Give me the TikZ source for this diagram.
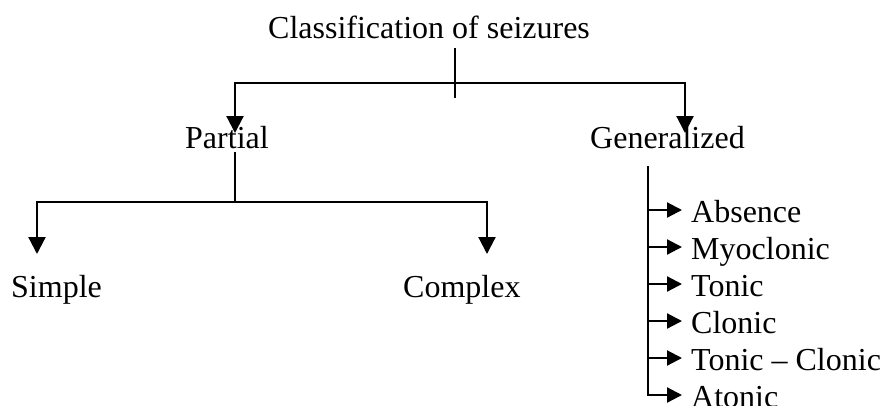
\documentclass[tikz,border=0pt]{standalone}
\usepackage{fontspec}
\setmainfont{Liberation Serif}
\usetikzlibrary{arrows.meta}
\begin{document}
\begin{tikzpicture}[x=1pt,y=-1pt,
  lbl/.style={anchor=base west,inner sep=0pt,font=\fontsize{32}{36}\selectfont},
  big/.style={line width=2.2pt,-{Triangle[width=17pt,length=17pt]}},
  small/.style={line width=2.2pt,-{Triangle[width=15pt,length=15pt]}},
  plain/.style={line width=2.2pt}]
\useasboundingbox (0,0) rectangle (885,405);
\node[lbl] (title) at (268,38) {Classification of seizures};
\node[lbl] (partial) at (185,148) {Partial};
\node[lbl] (gen) at (590,148) {Generalized};
\node[lbl] (simple) at (11,297) {Simple};
\node[lbl] (complex) at (403,297) {Complex};
\node[lbl] (abs) at (691,222) {Absence};
\node[lbl] (myo) at (691,259) {Myoclonic};
\node[lbl] (ton) at (691,296) {Tonic};
\node[lbl] (clo) at (691,333) {Clonic};
\node[lbl] (tc) at (691,370) {Tonic -- Clonic};
\node[lbl] (ato) at (691,407) {Atonic};
% title stem and branch
\coordinate (t1) at (455,48);
\coordinate (t2) at (455,98);
\coordinate (bm) at (455,83);
\coordinate (bl) at (235,133);
\coordinate (br) at (685,133);
\draw[line width=1.5pt] (t1) -- (t2);
\draw[big] (bm) -| (bl);
\draw[big] (bm) -| (br);
% partial
\coordinate (p1) at (235,152);
\coordinate (p2) at (235,202);
\coordinate (sl) at (37,254);
\coordinate (cr) at (487,254);
\draw[line width=1.5pt] (p1) -- (p2);
\draw[big] (p2) -| (sl);
\draw[big] (p2) -| (cr);
% generalized list
\coordinate (g1) at (648,166);
\coordinate (g2) at (648,395);
\draw[plain] (g1) -- (g2);
\foreach \n/\yy in {abs/210,myo/247,ton/284,clo/321,tc/358,ato/395}{
  \draw[small] (647,\yy) -- (682,\yy);
}
\end{tikzpicture}
\end{document}
